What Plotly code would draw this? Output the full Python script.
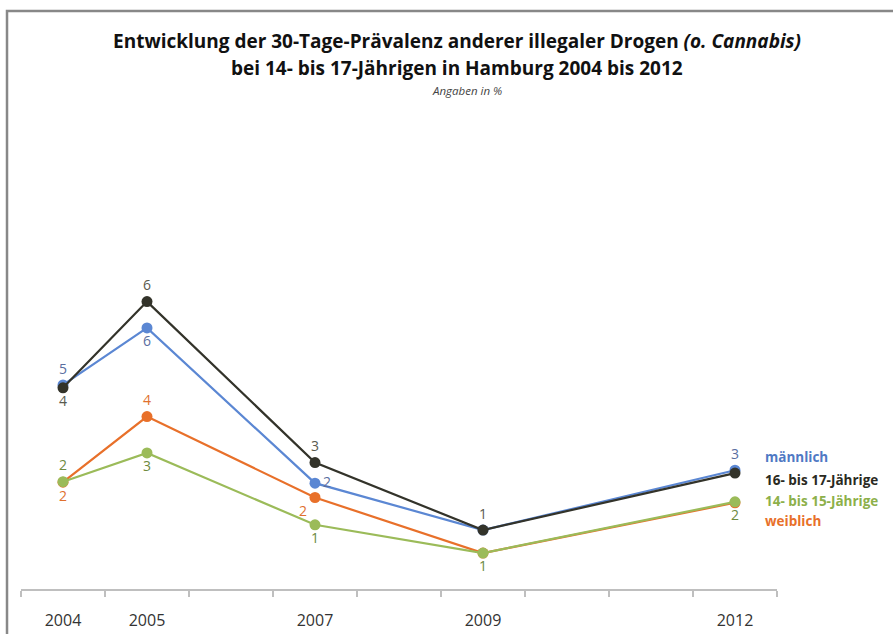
import plotly.graph_objects as go

years = [2004, 2005, 2007, 2009, 2012]
year_labels = ["2004", "2005", "2007", "2009", "2012"]

maennlich = [4.26, 5.45, 2.21, 1.23, 2.48]
weiblich = [2.23, 3.60, 1.91, 0.75, 1.80]
j14_15 = [2.24, 2.84, 1.34, 0.75, 1.82]
j16_17 = [4.20, 6.00, 2.64, 1.23, 2.42]

lbl_maennlich = ["5", "6", "2", "", "3"]
lbl_weiblich = ["2", "4", "2", "", ""]
lbl_14_15 = ["2", "3", "1", "1", "2"]
lbl_16_17 = ["4", "6", "3", "1", ""]

pos_maennlich = ["top center", "bottom center", "middle right", "top center", "top center"]
pos_weiblich = ["bottom center", "top center", "bottom left", "top center", "top center"]
pos_14_15 = ["top center", "bottom center", "bottom center", "bottom center", "bottom center"]
pos_16_17 = ["bottom center", "top center", "top center", "top center", "top center"]

series = [
    ("weiblich", weiblich, lbl_weiblich, pos_weiblich, "#E8702A", "#E0702E"),
    ("14- bis 15-Jährige", j14_15, lbl_14_15, pos_14_15, "#9BBB59", "#6E8A3E"),
    ("männlich", maennlich, lbl_maennlich, pos_maennlich, "#5B87D3", "#5A6EA0"),
    ("16- bis 17-Jährige", j16_17, lbl_16_17, pos_16_17, "#33332A", "#5A5A4E"),
]

FONT = "Open Sans"

fig = go.Figure()
for name, vals, lbls, pos, col, tcol in series:
    fig.add_trace(go.Scatter(
        x=years, y=vals, name=name, mode="lines+markers+text",
        line=dict(color=col, width=2.2),
        marker=dict(color=col, size=11),
        text=lbls, textposition=pos,
        textfont=dict(family=FONT, size=14, color=tcol),
        cliponaxis=False, showlegend=False,
    ))

# series names on the right (legend without symbols)
legend_items = [
    ("männlich", "#4F79C4", 0.276),
    ("16- bis 17-Jährige", "#2A2A22", 0.228),
    ("14- bis 15-Jährige", "#8DB04A", 0.184),
    ("weiblich", "#E8702A", 0.142),
]
for txt, col, yp in legend_items:
    fig.add_annotation(
        x=0.981, y=yp, xref="paper", yref="paper", xanchor="left", yanchor="middle",
        text="<b>" + txt + "</b>", showarrow=False,
        font=dict(family=FONT, size=13.5, color=col),
    )

fig.add_annotation(
    x=0.577, y=1.145, xref="paper", yref="paper", xanchor="center", yanchor="middle",
    text="<b>Entwicklung der 30-Tage-Prävalenz anderer illegaler Drogen <i>(o. Cannabis)</i></b>",
    showarrow=False, font=dict(family=FONT, size=19, color="#111111"),
)
fig.add_annotation(
    x=0.577, y=1.0887, xref="paper", yref="paper", xanchor="center", yanchor="middle",
    text="<b>bei 14- bis 17-Jährigen in Hamburg 2004 bis 2012</b>",
    showarrow=False, font=dict(family=FONT, size=19, color="#111111"),
)
fig.add_annotation(
    x=0.59, y=1.0405, xref="paper", yref="paper", xanchor="center", yanchor="middle",
    text="<i>Angaben in %</i>",
    showarrow=False, font=dict(family=FONT, size=11.5, color="#444444"),
)

# outer frame
fig.add_shape(type="rect", xref="paper", yref="paper",
              x0=-0.0185, y0=-0.3, x1=1.3, y1=1.2067,
              line=dict(color="#888888", width=2.5), layer="below")

fig.update_layout(
    width=893, height=634,
    margin=dict(l=21, r=116, t=110, b=45),
    paper_bgcolor="white", plot_bgcolor="white",
    font=dict(family=FONT),
    xaxis=dict(
        range=[2003.5, 2012.5], tickmode="array", tickvals=years, ticktext=year_labels,
        ticks="", showgrid=False, zeroline=False, automargin=False,
        showline=True, linecolor="#BFBFBF", linewidth=2,
        tickfont=dict(family=FONT, size=16, color="#333333"),
        ticklabelstandoff=16,
        minor=dict(tickmode="array", tickvals=[2003.5 + i for i in range(10)],
                   ticks="outside", ticklen=6, tickcolor="#BFBFBF", tickwidth=1.5,
                   showgrid=False),
    ),
    yaxis=dict(range=[0, 10], visible=False, showgrid=False, automargin=False),
)

fig.write_html("out.html")
